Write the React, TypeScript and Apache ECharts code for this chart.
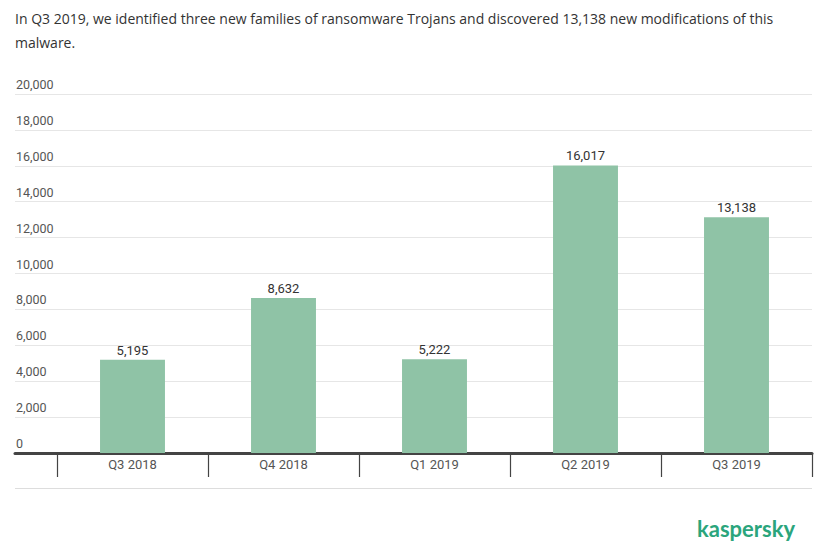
import React, { useEffect, useRef } from "react";
import * as echarts from "echarts";

const categories = ["Q3 2018", "Q4 2018", "Q1 2019", "Q2 2019", "Q3 2019"];
const values = [5195, 8632, 5222, 16017, 13138];
const yMin = 0;
const yMax = 20000;
const yInterval = 2000;
const titleLines = [
  "In Q3 2019, we identified three new families of ransomware Trojans and discovered 13,138 new modifications of this",
  "malware.",
];
const brand = "kaspersky";

const fmt = (v: number) => v.toLocaleString("en-US");

export default function App() {
  const ref = useRef<HTMLDivElement>(null);
  useEffect(() => {
    if (!ref.current) return;
    const chart = echarts.init(ref.current, undefined, { renderer: "svg" });
    const top = 94;
    const bottom = 91;
    chart.setOption({
      animation: false,
      backgroundColor: "#ffffff",
      title: {
        text: titleLines.join("\n"),
        left: 15,
        top: 6,
        padding: 0,
        textStyle: {
          fontFamily: "Open Sans",
          fontSize: 14,
          fontWeight: "normal",
          color: "#333333",
          lineHeight: 24,
        },
      },
      grid: [
        { left: 15, right: 10, top, bottom },
        { left: 57, right: 10, top, bottom },
      ],
      xAxis: [
        {
          gridIndex: 0,
          type: "value",
          min: 0,
          max: 1,
          axisLine: { show: true, onZero: false, lineStyle: { color: "#444444", width: 3 } },
          axisTick: { show: false },
          axisLabel: { show: false },
          splitLine: { show: false },
        },
        {
          gridIndex: 1,
          type: "category",
          data: categories,
          axisLine: { show: false },
          axisTick: { show: true, length: 24, interval: 0, lineStyle: { color: "#444444", width: 1.2 } },
          axisLabel: {
            margin: 5,
            fontFamily: "Roboto",
            fontSize: 13,
            color: "#555555",
            interval: 0,
          },
          splitLine: { show: false },
        },
      ],
      yAxis: [
        {
          gridIndex: 0,
          type: "value",
          min: yMin,
          max: yMax,
          interval: yInterval,
          axisLine: { show: false },
          axisTick: { show: false },
          axisLabel: {
            inside: true,
            margin: 1,
            align: "left",
            verticalAlign: "bottom",
            padding: [0, 0, 3, 0],
            fontFamily: "Roboto",
            fontSize: 12.5,
            color: "#555555",
            formatter: (v: number) => fmt(v),
          },
          splitLine: { show: true, lineStyle: { color: "#e6e6e6", width: 1 } },
        },
        {
          gridIndex: 1,
          type: "value",
          min: yMin,
          max: yMax,
          interval: yInterval,
          show: false,
        },
      ],
      series: [
        {
          type: "bar",
          xAxisIndex: 1,
          yAxisIndex: 1,
          data: values,
          barWidth: "43%",
          itemStyle: { color: "#8fc3a6" },
          label: {
            show: true,
            position: "top",
            distance: 3,
            fontFamily: "Roboto",
            fontSize: 13,
            color: "#333333",
            formatter: (p: any) => fmt(p.value),
          },
        },
      ],
      graphic: [
        {
          type: "line",
          shape: { x1: 15, y1: 488.5, x2: 812, y2: 488.5 },
          style: { stroke: "#dddddd", lineWidth: 1 },
        },
        {
          type: "text",
          x: 697,
          y: 528,
          style: {
            text: brand,
            fontFamily: "Lato",
            fontWeight: "bold",
            fontSize: 22,
            fill: "#2ba57c",
            textVerticalAlign: "middle",
            verticalAlign: "middle",
          },
        },
      ],
    });
    return () => chart.dispose();
  }, []);
  return (
    <div
      ref={ref}
      style={{ position: "absolute", left: 0, top: 0, width: 822, height: 544 }}
    />
  );
}
